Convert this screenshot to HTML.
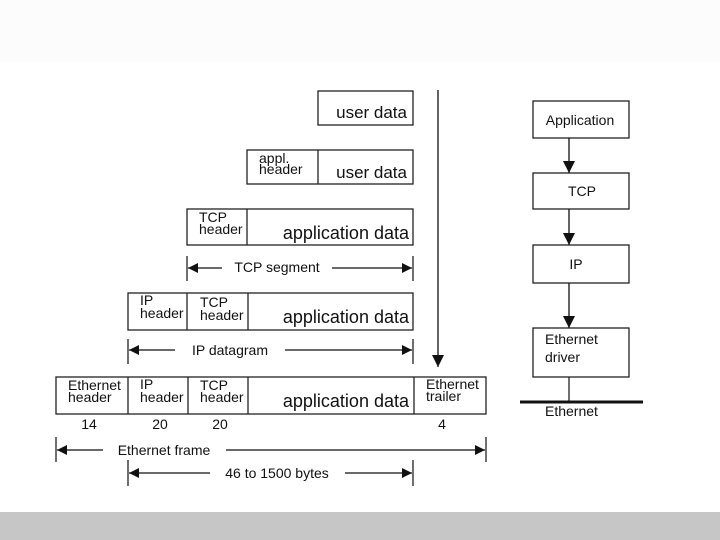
<!DOCTYPE html>
<html><head><meta charset="utf-8"><style>
html,body{margin:0;padding:0;background:#fff;}
svg{display:block;}
text{font-family:"Liberation Sans",sans-serif;fill:#111;}
</style></head><body>
<svg width="720" height="540" viewBox="0 0 720 540" xmlns="http://www.w3.org/2000/svg">
<defs>
<marker id="ah" viewBox="0 0 10 10" refX="10" refY="5" markerWidth="10" markerHeight="10" markerUnits="userSpaceOnUse" orient="auto-start-reverse">
<path d="M0,0 L10,5 L0,10 z" fill="#111"/></marker>
<marker id="ah2" viewBox="0 0 10 10" refX="10" refY="5" markerWidth="12" markerHeight="12" markerUnits="userSpaceOnUse" orient="auto">
<path d="M0,0 L10,5 L0,10 z" fill="#111"/></marker>
</defs>
<rect x="0" y="0" width="720" height="62" fill="#fcfcfc"/>
<rect x="0" y="512" width="720" height="28" fill="#c6c6c6"/>
<g fill="none" stroke="#222" stroke-width="1.3">
<rect x="318" y="91" width="95" height="34"/>
<rect x="247" y="150" width="166" height="34"/><line x1="318" y1="150" x2="318" y2="184"/>
<rect x="187" y="209" width="226" height="36"/><line x1="247" y1="209" x2="247" y2="245"/>
<rect x="128" y="293" width="285" height="37"/><line x1="187" y1="293" x2="187" y2="330"/><line x1="248" y1="293" x2="248" y2="330"/>
<rect x="56" y="377" width="430" height="37"/>
<line x1="128" y1="377" x2="128" y2="414"/><line x1="188" y1="377" x2="188" y2="414"/><line x1="248" y1="377" x2="248" y2="414"/><line x1="414" y1="377" x2="414" y2="414"/>
<line x1="187" y1="256" x2="187" y2="281"/><line x1="413" y1="256" x2="413" y2="281"/>
<line x1="128" y1="339" x2="128" y2="364"/><line x1="413" y1="339" x2="413" y2="364"/>
<line x1="56" y1="437" x2="56" y2="462"/><line x1="486" y1="437" x2="486" y2="462"/>
<line x1="128" y1="460" x2="128" y2="486"/><line x1="413" y1="460" x2="413" y2="486"/>
<rect x="533" y="101" width="96" height="37"/>
<rect x="533" y="173" width="96" height="36"/>
<rect x="533" y="245" width="96" height="38"/>
<rect x="533" y="328" width="96" height="49"/>
<line x1="569" y1="377" x2="569" y2="402"/>
</g>
<line x1="520" y1="402" x2="643" y2="402" stroke="#111" stroke-width="3"/>
<g stroke="#111" stroke-width="1.3" fill="none">
<line x1="438" y1="90" x2="438" y2="367" marker-end="url(#ah2)"/>
<line x1="569" y1="138" x2="569" y2="173" marker-end="url(#ah2)"/>
<line x1="569" y1="209" x2="569" y2="245" marker-end="url(#ah2)"/>
<line x1="569" y1="283" x2="569" y2="328" marker-end="url(#ah2)"/>
<line x1="188" y1="268" x2="222" y2="268" marker-start="url(#ah)"/>
<line x1="332" y1="268" x2="412" y2="268" marker-end="url(#ah)"/>
<line x1="129" y1="350" x2="175" y2="350" marker-start="url(#ah)"/>
<line x1="285" y1="350" x2="412" y2="350" marker-end="url(#ah)"/>
<line x1="57" y1="450" x2="103" y2="450" marker-start="url(#ah)"/>
<line x1="226" y1="450" x2="485" y2="450" marker-end="url(#ah)"/>
<line x1="129" y1="473" x2="210" y2="473" marker-start="url(#ah)"/>
<line x1="345" y1="473" x2="412" y2="473" marker-end="url(#ah)"/>
</g>
<g font-size="17">
<text x="407" y="118" text-anchor="end">user data</text>
<text x="407" y="178" text-anchor="end">user data</text>
<text x="409" y="239" text-anchor="end" font-size="18">application data</text>
<text x="409" y="323" text-anchor="end" font-size="18">application data</text>
<text x="409" y="407" text-anchor="end" font-size="18">application data</text>
</g>
<g font-size="14">
<text x="259" y="163">appl.</text><text x="259" y="174">header</text>
<text x="199" y="222">TCP</text><text x="199" y="234">header</text>
<text x="140" y="305">IP</text><text x="140" y="318">header</text>
<text x="200" y="307">TCP</text><text x="200" y="320">header</text>
<text x="68" y="390">Ethernet</text><text x="68" y="402">header</text>
<text x="140" y="389">IP</text><text x="140" y="402">header</text>
<text x="200" y="390">TCP</text><text x="200" y="402">header</text>
<text x="426" y="389">Ethernet</text><text x="426" y="401">trailer</text>
<text x="89" y="429" text-anchor="middle">14</text>
<text x="160" y="429" text-anchor="middle">20</text>
<text x="220" y="429" text-anchor="middle">20</text>
<text x="442" y="429" text-anchor="middle">4</text>
<text x="277" y="272" text-anchor="middle">TCP segment</text>
<text x="230" y="355" text-anchor="middle">IP datagram</text>
<text x="164" y="455" text-anchor="middle">Ethernet frame</text>
<text x="277" y="478" text-anchor="middle">46 to 1500 bytes</text>
<text x="580" y="125" text-anchor="middle">Application</text>
<text x="582" y="196" text-anchor="middle">TCP</text>
<text x="576" y="269" text-anchor="middle">IP</text>
<text x="545" y="344">Ethernet</text>
<text x="545" y="362">driver</text>
<text x="545" y="416">Ethernet</text>
</g>
</svg>
</body></html>
